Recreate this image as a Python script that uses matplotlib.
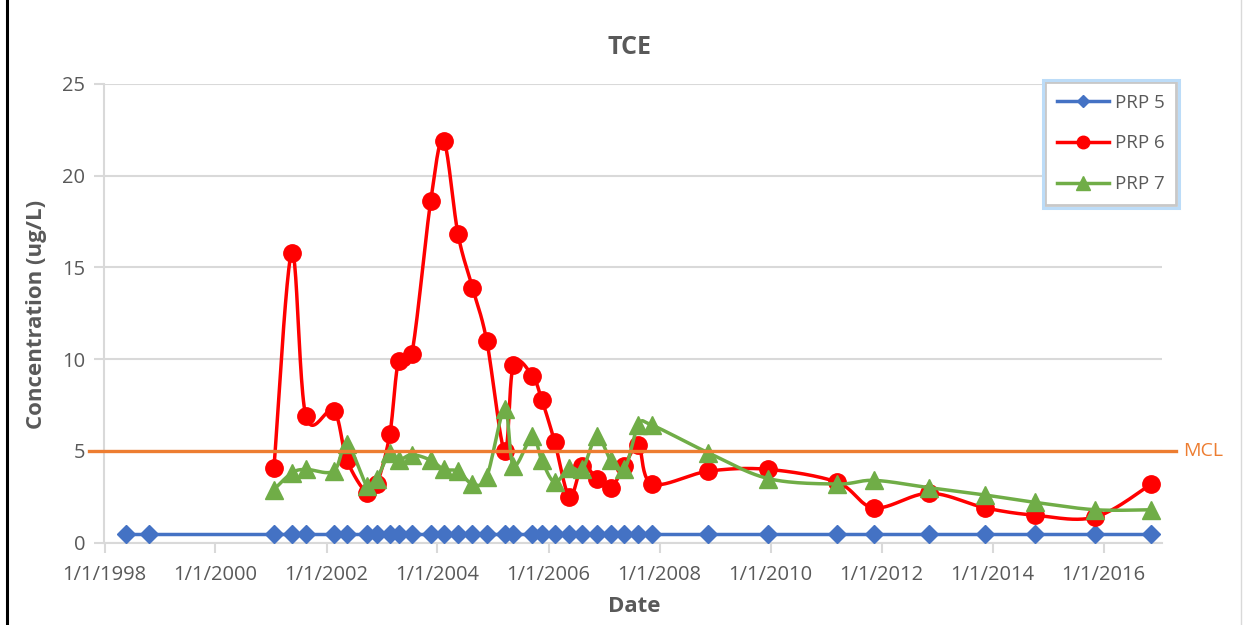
import matplotlib
matplotlib.use("Agg")
import matplotlib.pyplot as plt
import matplotlib.dates as mdates
from matplotlib.lines import Line2D
from matplotlib.patches import Rectangle
from matplotlib.ticker import FuncFormatter
import matplotlib.transforms as mtrans
import numpy as np
from datetime import datetime

# sampling dates (PRP 5 was sampled twice in 1998 before the others started)
dates = [
    "1998-05-20", "1998-10-20",
    "2001-01-20", "2001-05-17", "2001-08-18", "2002-02-17", "2002-05-15",
    "2002-09-24", "2002-11-28", "2003-02-21", "2003-04-20", "2003-07-16",
    "2003-11-17", "2004-02-10", "2004-05-15", "2004-08-18", "2004-11-20",
    "2005-03-18", "2005-05-15", "2005-09-16", "2005-11-17", "2006-02-10",
    "2006-05-18", "2006-08-11", "2006-11-13", "2007-02-14", "2007-05-15",
    "2007-08-15", "2007-11-14", "2008-11-17", "2009-12-15", "2011-03-14",
    "2011-11-14", "2012-11-10", "2013-11-14", "2014-10-08", "2015-11-06",
    "2016-11-10",
]
prp5 = [0.5] * 38
prp6 = [4.1, 15.8, 6.9, 7.2, 4.5, 2.7, 3.2, 5.9, 9.9, 10.3, 18.6, 21.9,
        16.8, 13.9, 11.0, 5.0, 9.7, 9.1, 7.8, 5.5, 2.5, 4.2, 3.5, 3.0,
        4.2, 5.3, 3.2, 3.9, 4.0, 3.3, 1.9, 2.7, 1.9, 1.5, 1.4, 3.2]
prp7 = [2.9, 3.8, 4.0, 3.9, 5.4, 3.1, 3.5, 4.9, 4.5, 4.8, 4.5, 4.0,
        3.9, 3.2, 3.6, 7.3, 4.2, 5.8, 4.5, 3.3, 4.1, 4.0, 5.8, 4.5,
        4.0, 6.4, 6.4, 4.9, 3.5, 3.2, 3.4, 3.0, 2.6, 2.2, 1.8, 1.8]
mcl = 5
tick_years = list(range(1998, 2017, 2))

GRAY_TXT = "#595959"
GRID = "#d9d9d9"


def smooth(x, y, n=24):
    # bezier spline through the points, like a spreadsheet "smoothed line"
    x = np.asarray(x, float)
    y = np.asarray(y, float)
    px = np.concatenate([[x[0]], x, [x[-1]]])
    py = np.concatenate([[y[0]], y, [y[-1]]])
    t = np.linspace(0, 1, n + 1)[1:, None]
    out = [np.array([[x[0], y[0]]])]
    for i in range(len(x) - 1):
        p0 = np.array([px[i], py[i]])
        p1 = np.array([px[i + 1], py[i + 1]])
        p2 = np.array([px[i + 2], py[i + 2]])
        p3 = np.array([px[i + 3], py[i + 3]])
        c1 = p1 + (p2 - p0) / 6
        c2 = p2 - (p3 - p1) / 6
        seg = ((1 - t) ** 3 * p1 + 3 * (1 - t) ** 2 * t * c1
               + 3 * (1 - t) * t ** 2 * c2 + t ** 3 * p2)
        out.append(seg)
    pts = np.vstack(out)
    return pts[:, 0], pts[:, 1]


plt.rcParams["font.family"] = ["Open Sans", "DejaVu Sans"]

W, H = 1249, 625
fig = plt.figure(figsize=(W / 100, H / 100), dpi=100)
x0, x1, y0, y1 = 104.5, 1162, 83.7, 542.8
ax = fig.add_axes([x0 / W, 1 - y1 / H, (x1 - x0) / W, (y1 - y0) / H])

xd = mdates.date2num([datetime.fromisoformat(d) for d in dates])
x67 = xd[2:]
LW = 2.5

ax.plot(xd, prp5, color="#4472C4", lw=LW, marker="D", ms=9,
        mec="#4472C4", mfc="#4472C4", zorder=3)

sx, sy = smooth(x67, prp6)
ax.plot(sx, sy, color="#FF0000", lw=LW, zorder=4)
ax.plot(x67, prp6, ls="none", marker="o", ms=12.5, color="#FF0000", zorder=4)

sx, sy = smooth(x67, prp7)
ax.plot(sx, sy, color="#70AD47", lw=LW, zorder=5)
ax.plot(x67, prp7, ls="none", marker="^", ms=12.5, color="#70AD47", zorder=5)

# MCL reference line runs a little past both sides of the plot area
blend = mtrans.blended_transform_factory(ax.transAxes, ax.transData)
ax.plot([(89 - x0) / (x1 - x0), (1176 - x0) / (x1 - x0)], [mcl, mcl],
        color="#ED7D31", lw=2.4, transform=blend, clip_on=False, zorder=6)
ax.text((1183 - x0) / (x1 - x0), mcl, "MCL", color="#ED7D31", fontsize=14,
        va="center", ha="left", transform=blend)

ax.set_xlim(mdates.date2num(datetime(1998, 1, 1)),
            mdates.date2num(datetime(2017, 1, 19)))
ax.set_ylim(0, 25)
ax.set_yticks(range(0, 26, 5))
ax.set_xticks(mdates.date2num([datetime(yr, 1, 1) for yr in tick_years]))


def fmt_date(v, pos):
    d = mdates.num2date(v)
    return f"{d.month}/{d.day}/{d.year}"


ax.xaxis.set_major_formatter(FuncFormatter(fmt_date))

for side in ("top", "right"):
    ax.spines[side].set_visible(False)
for side in ("left", "bottom"):
    ax.spines[side].set_color(GRID)
    ax.spines[side].set_linewidth(1.5)
ax.grid(axis="y", color=GRID, lw=1.5)
ax.set_axisbelow(True)
ax.tick_params(axis="both", colors=GRID, width=1.5, length=7,
               labelcolor=GRAY_TXT, labelsize=14.5)
ax.tick_params(axis="x", pad=9)
ax.tick_params(axis="y", pad=7)

fig.text(630 / W, 1 - 47 / H, "TCE", ha="center", va="center",
         fontsize=18, fontweight="bold", color=GRAY_TXT)
fig.text(37 / W, 1 - 314 / H, "Concentration (ug/L)", ha="center",
         va="center", rotation=90, fontsize=16, fontweight="bold",
         color=GRAY_TXT)
fig.text(634 / W, 1 - 607 / H, "Date", ha="center", va="center",
         fontsize=16, fontweight="bold", color=GRAY_TXT)

handles = [
    Line2D([], [], color="#4472C4", lw=LW, marker="D", ms=6.5),
    Line2D([], [], color="#FF0000", lw=LW, marker="o", ms=9),
    Line2D([], [], color="#70AD47", lw=LW, marker="^", ms=9.5),
]
leg = ax.legend(handles, ["PRP 5", "PRP 6", "PRP 7"],
                loc="upper left", bbox_to_anchor=(1045 / W, 1 - 82 / H),
                bbox_transform=fig.transFigure, borderaxespad=0,
                fontsize=13.5, labelcolor=GRAY_TXT, handlelength=2.8,
                handletextpad=0.3, labelspacing=1.22, borderpad=0.62,
                fancybox=False, framealpha=1, edgecolor="#c8c8c8")
leg.get_frame().set_linewidth(2.0)
leg.set_zorder(10)

# soft blue outline around the legend box
fig.canvas.draw()
bb = leg.get_frame().get_window_extent().transformed(fig.transFigure.inverted())
pad_x, pad_y = 2.5 / W, 2.5 / H
fig.add_artist(Rectangle((bb.x0 - pad_x, bb.y0 - pad_y), bb.width + 2 * pad_x,
                         bb.height + 2 * pad_y, transform=fig.transFigure,
                         fill=False, edgecolor="#bcdcf8", lw=2.2, zorder=11))

# frame edges
fig.add_artist(Line2D([6.5 / W, 6.5 / W], [0, 1], color="black", lw=2.2,
                      transform=fig.transFigure))
fig.add_artist(Line2D([1241 / W, 1241 / W], [0, 1], color=GRID, lw=1.0,
                      transform=fig.transFigure))

fig.savefig("out.png", dpi=100)
